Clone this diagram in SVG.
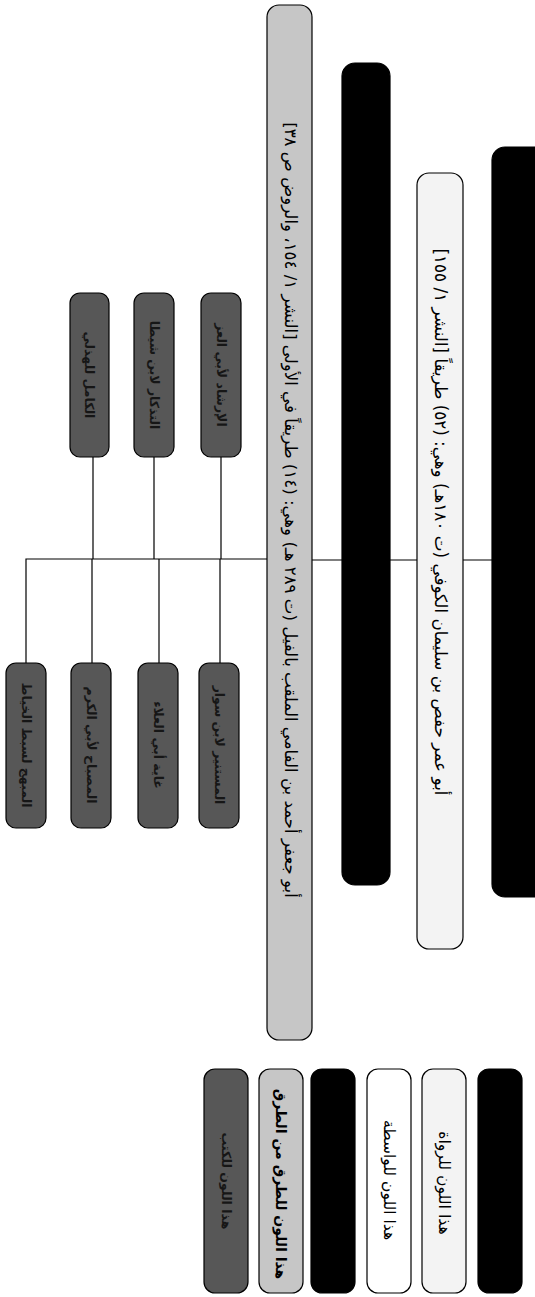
<svg xmlns="http://www.w3.org/2000/svg" width="535" height="1297" viewBox="0 0 535 1297">
<style>
.box{stroke:#000;stroke-width:1.2}
.blk{fill:#000}
.gry{fill:#c6c6c6}
.wht{fill:#fff}
.rwy{fill:#f3f3f3}
.drk{fill:#575757}
.t{font-family:"DejaVu Sans",sans-serif;text-anchor:middle;dominant-baseline:central;fill:#000}
.td{font-family:"DejaVu Sans",sans-serif;text-anchor:middle;dominant-baseline:central;fill:#161616;font-weight:bold;font-size:12.5px}
.ln{stroke:#000;stroke-width:1.2;fill:none}
</style>
<rect width="535" height="1297" fill="#fff"/>
<g id="connectors">
<path class="ln" d="M463 560H492M390 560H417M312 560H342M267 559H26V663M93 457V559M154 457V559M221 457V559M92 559V663M159 559V663M220 559V663"/>
</g>
<g id="root"><rect class="box blk" x="492" y="147" width="60" height="750" rx="13"/></g>
<g id="hafs"><rect class="box rwy" x="417" y="173" width="46" height="776" rx="12"/>
<text class="t" font-size="16.8" transform="translate(441,522) rotate(90)">أبو عمر حفص بن سليمان الكوفي (ت ١٨٠هـ) وهي: (٥٢) طريقاً [النشر ١/ ١٥٥]</text></g>
<g id="mid"><rect class="box blk" x="342" y="63" width="48" height="822" rx="13"/></g>
<g id="fil"><rect class="box gry" x="267" y="5" width="45" height="1035" rx="12"/>
<text class="t" font-size="16.6" transform="translate(290,510) rotate(90)">أبو جعفر أحمد بن الفامي الملقب بالفيل (ت ٢٨٩ هـ) وهي: (١٤) طريقاً في الأولى [النشر ١/ ١٥٤، والروض ص ٣٨]</text></g>
<g id="t1"><rect class="box drk" x="70" y="293" width="39" height="164" rx="10"/><text class="td" transform="translate(89.5,375) rotate(90)">الكامل للهذلي</text></g>
<g id="t2"><rect class="box drk" x="134" y="293" width="40" height="164" rx="10"/><text class="td" transform="translate(154,375) rotate(90)">التذكار لابن شيطا</text></g>
<g id="t3"><rect class="box drk" x="201" y="293" width="40" height="164" rx="10"/><text class="td" transform="translate(221,375) rotate(90)">الإرشاد لأبي العز</text></g>
<g id="b1"><rect class="box drk" x="6" y="663" width="40" height="165" rx="10"/><text class="td" transform="translate(26,745) rotate(90)">المبهج لسبط الخياط</text></g>
<g id="b2"><rect class="box drk" x="71" y="663" width="40" height="165" rx="10"/><text class="td" transform="translate(91,745) rotate(90)">المصباح لأبي الكرم</text></g>
<g id="b3"><rect class="box drk" x="138" y="663" width="40" height="165" rx="10"/><text class="td" transform="translate(158,745) rotate(90)">غاية أبي العلاء</text></g>
<g id="b4"><rect class="box drk" x="199" y="663" width="40" height="165" rx="10"/><text class="td" transform="translate(219,745) rotate(90)">المستنير لابن سوار</text></g>
<g id="legend">
<rect class="box drk" x="204" y="1069" width="44" height="224" rx="11"/>
<text class="td" transform="translate(226,1181) rotate(90)">هذا اللون للكتب</text>
<rect class="box gry" x="259" y="1069" width="44" height="224" rx="11"/>
<text class="t" font-size="14" font-weight="bold" transform="translate(281,1184) rotate(90)">هذا اللون للطرق من الطرق</text>
<rect class="box blk" x="311" y="1069" width="44" height="224" rx="11"/>
<rect class="box wht" x="367" y="1069" width="44" height="224" rx="11"/>
<text class="t" font-size="15.5" transform="translate(389,1180) rotate(90)">هذا اللون للواسطة</text>
<rect class="box rwy" x="422" y="1069" width="44" height="224" rx="11"/>
<text class="t" font-size="15.7" transform="translate(444,1183) rotate(90)">هذا اللون للرواة</text>
<rect class="box blk" x="478" y="1069" width="44" height="224" rx="11"/>
</g>
</svg>
